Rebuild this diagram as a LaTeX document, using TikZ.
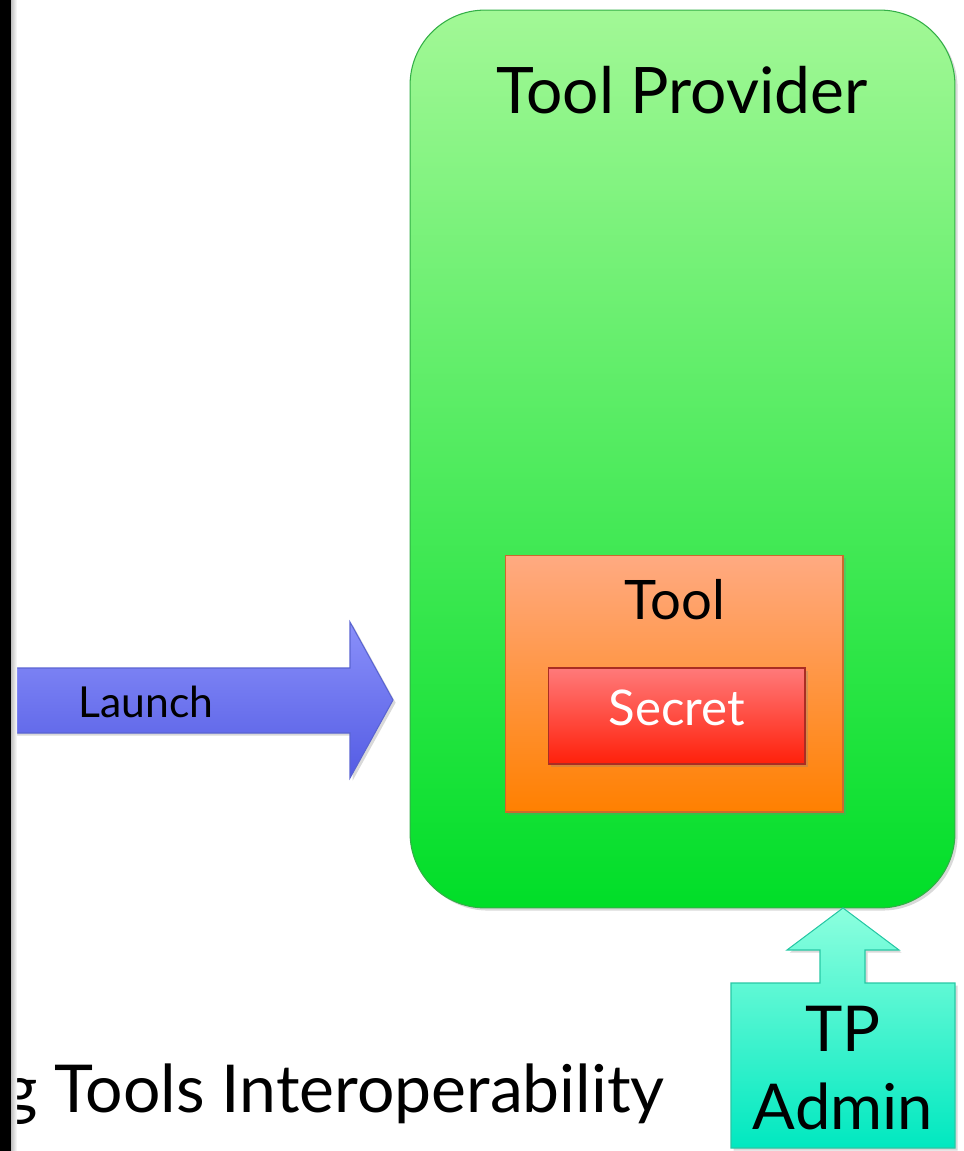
\documentclass[tikz,border=0pt]{standalone}
\usepackage{fontspec}
\setmainfont{Lato}
\usetikzlibrary{shadows}
\definecolor{provtop}{RGB}{162,248,150}
\definecolor{provbot}{RGB}{0,222,40}
\definecolor{provline}{RGB}{50,175,70}
\definecolor{tooltop}{RGB}{255,170,130}
\definecolor{toolbot}{RGB}{255,128,0}
\definecolor{toolline}{RGB}{205,105,45}
\definecolor{secrettop}{RGB}{255,122,122}
\definecolor{secretbot}{RGB}{255,32,10}
\definecolor{secretline}{RGB}{170,45,35}
\definecolor{launchtop}{RGB}{138,144,250}
\definecolor{launchbot}{RGB}{84,92,228}
\definecolor{launchline}{RGB}{90,100,210}
\definecolor{admintop}{RGB}{140,255,222}
\definecolor{adminbot}{RGB}{0,232,192}
\definecolor{adminline}{RGB}{40,200,165}
\tikzset{
  shadebox/.style={draw, line width=0.6pt,
    drop shadow={opacity=0.3, shadow xshift=1.5pt, shadow yshift=-1.5pt}},
}
\begin{document}
\begin{tikzpicture}[x=0.02cm, y=-0.02cm]
\useasboundingbox (0,0) rectangle (963,1151);
% provider
\node[shadebox, draw=provline, top color=provtop, bottom color=provbot,
  rounded corners=1.5cm, minimum width=10.9cm, minimum height=17.96cm] (provider) at (682.5,459) {};
\node[font=\fontsize{36.5}{43}\selectfont] (providertxt) at (682,90) {Tool Provider};
% tool
\node[shadebox, draw=toolline, top color=tooltop, bottom color=toolbot,
  minimum width=6.76cm, minimum height=5.14cm] (tool) at (674,683.5) {};
\node[font=\fontsize{31}{37}\selectfont] (tooltxt) at (675,600) {Tool};
\node[shadebox, draw=secretline, top color=secrettop, bottom color=secretbot,
  minimum width=5.14cm, minimum height=1.92cm] (secret) at (676.5,716) {};
\node[font=\fontsize{28}{34}\selectfont, text=white] (secrettxt) at (677,708) {Secret};
% launch arrow
\draw[shadebox, draw=launchline, top color=launchtop, bottom color=launchbot]
  (11,668) -- (350,668) -- (350,622) -- (393,700) -- (350,778) -- (350,733) -- (11,733) -- cycle;
\node[font=\fontsize{24.3}{29}\selectfont] (launchtxt) at (146,702) {Launch};
% admin
\draw[shadebox, draw=adminline, top color=admintop, bottom color=adminbot]
  (731,983) -- (820,983) -- (820,950) -- (787,950) -- (843,908) -- (899,950)
  -- (865,950) -- (865,983) -- (955,983) -- (955,1148) -- (731,1148) -- cycle;
\node[font=\fontsize{36}{44}\selectfont, align=center] (admintxt) at (843,1068) {TP\\Admin};
% title
\node[font=\fontsize{37.6}{45}\selectfont, anchor=base west, inner sep=0pt] (title) at (3,1112) {g Tools Interoperability};
\fill[black] (0,0) rectangle (11,1151);
\shade[left color=black!25, right color=white] (11,0) rectangle (17,1151);
\end{tikzpicture}
\end{document}
